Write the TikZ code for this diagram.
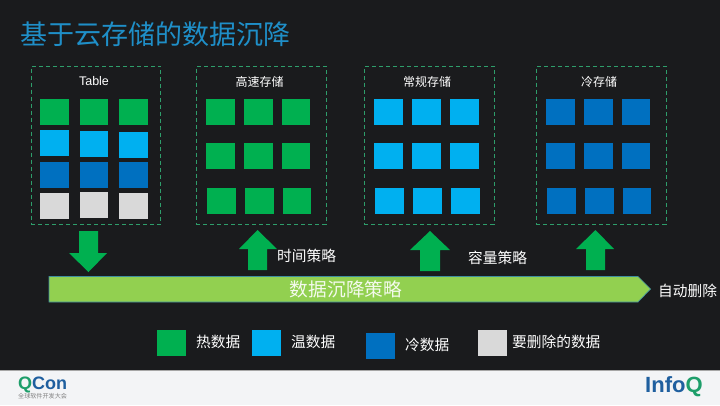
\documentclass[tikz,border=0pt]{standalone}
\usepackage{fontspec}
\setmainfont{Liberation Sans}
\newfontfamily\cjk{Noto Sans CJK SC}
\definecolor{bgdark}{HTML}{1A1B1D}
\definecolor{foot}{HTML}{F3F4F6}
\definecolor{hot}{HTML}{00B050}
\definecolor{warm}{HTML}{00B0F0}
\definecolor{cold}{HTML}{0070C0}
\definecolor{del}{HTML}{D9D9D9}
\definecolor{titleblue}{HTML}{1F8FC8}
\definecolor{framegreen}{HTML}{2E9E6B}
\definecolor{barlime}{HTML}{92D050}
\definecolor{barline}{HTML}{3E8E9E}
\definecolor{qgreen}{HTML}{1E9E6A}
\definecolor{qblue}{HTML}{1F5F9F}
\tikzset{
  x=1pt,y=-1pt,
  cell/.style={minimum width=29pt,minimum height=26pt,inner sep=0pt,outer sep=0pt,anchor=north west},
  narrowcell/.style={cell,minimum width=28pt},
  zone/.style={draw=framegreen,dash pattern=on 4pt off 3pt,line width=0.6pt,minimum width=129.5pt,minimum height=158.5pt,inner sep=0pt,outer sep=0pt,anchor=north west},
  fatarrow/.style={fill=hot,draw=none},
  lab/.style={text=white,inner sep=0pt,font=\cjk\fontsize{14.7pt}{16pt}\selectfont},
  head/.style={text=white,inner sep=0pt,font=\cjk\fontsize{12pt}{14pt}\selectfont},
}
\begin{document}
\begin{tikzpicture}
\useasboundingbox (0,0) rectangle (720,405);
\fill[bgdark] (0,0) rectangle (720,370);
\fill[foot] (0,370) rectangle (720,405);
\draw[gray!70,line width=0.8pt] (0,370) -- (720,370);
\node[anchor=west,inner sep=0pt,text=titleblue,font=\cjk\fontsize{27pt}{30pt}\selectfont] (title) at (20,34) {基于云存储的数据沉降};
% frames
\node[zone] (f1) at (31,66) {};
\node[zone] (f2) at (196.3,66) {};
\node[zone] (f3) at (364.3,66) {};
\node[zone] (f4) at (536.3,66) {};
\node[text=white,inner sep=0pt,font=\fontsize{12.5pt}{14pt}\selectfont] (h1) at (94,81.5) {Table};
\node[head] (h2) at (259.5,81.5) {高速存储};
\node[head] (h3) at (427,81.5) {常规存储};
\node[head] (h4) at (599,81.5) {冷存储};
% table cells
\node[cell,fill=hot] (a1) at (40,99) {};
\node[narrowcell,fill=hot] (a2) at (80,99) {};
\node[cell,fill=hot] (a3) at (119,99) {};
\node[cell,fill=warm] (b1) at (40,130) {};
\node[narrowcell,fill=warm] (b2) at (80,131) {};
\node[cell,fill=warm] (b3) at (119,132) {};
\node[cell,fill=cold] (c1) at (40,162) {};
\node[narrowcell,fill=cold] (c2) at (80,162) {};
\node[cell,fill=cold] (c3) at (119,162) {};
\node[cell,fill=del] (d1) at (40,193) {};
\node[narrowcell,fill=del] (d2) at (80,192) {};
\node[cell,fill=del] (d3) at (119,193) {};
% fast
\foreach \n/\x/\s in {1/206/cell,2/244/cell,3/282/narrowcell}{
  \node[\s,fill=hot] (p1\n) at (\x,99) {};
  \node[\s,fill=hot] (p2\n) at (\x,143) {};
  \node[\s,fill=hot] (p3\n) at (\x+1,188) {};
}
% normal
\foreach \n/\x in {1/374,2/412,3/450}{
  \node[cell,fill=warm] (q1\n) at (\x,99) {};
  \node[cell,fill=warm] (q2\n) at (\x,143) {};
  \node[cell,fill=warm] (q3\n) at (\x+1,188) {};
}
% cold
\foreach \n/\x/\s in {1/546/cell,2/584/cell,3/622/narrowcell}{
  \node[\s,fill=cold] (r1\n) at (\x,99) {};
  \node[\s,fill=cold] (r2\n) at (\x,143) {};
  \node[\s,fill=cold] (r3\n) at (\x+1,188) {};
}
% block arrows
\fill[fatarrow] (79,231) -- (98,231) -- (98,253) -- (107,253) -- (88.5,272) -- (69,253) -- (79,253) -- cycle;
\fill[fatarrow] (248,270) -- (267,270) -- (267,249) -- (277,249) -- (257.5,230) -- (239,249) -- (248,249) -- cycle;
\fill[fatarrow] (420,271) -- (440,271) -- (440,250) -- (450,250) -- (430,231) -- (410,250) -- (420,250) -- cycle;
\fill[fatarrow] (586,270) -- (605,270) -- (605,249) -- (614,249) -- (595.5,230) -- (576,249) -- (586,249) -- cycle;
% bar
\draw[barline,fill=barlime,line width=0.7pt] (49,276.5) -- (638,276.5) -- (650.5,289) -- (638,302) -- (49,302) -- cycle;
\node[inner sep=0pt,text=white!90!barlime,font=\cjk\fontsize{18.7pt}{20pt}\selectfont] (barlab) at (346,289) {数据沉降策略};
\node[lab,anchor=west] (t1) at (277,255.5) {时间策略};
\node[lab,anchor=west] (t2) at (468,257.5) {容量策略};
\node[lab,anchor=west] (t3) at (658,290.5) {自动删除};
% legend
\node[cell,fill=hot] (l1) at (157,330) {};
\node[lab,anchor=west] (lt1) at (196,342) {热数据};
\node[cell,fill=warm] (l2) at (252,330) {};
\node[lab,anchor=west] (lt2) at (291,342) {温数据};
\node[cell,fill=cold] (l3) at (366,333) {};
\node[lab,anchor=west] (lt3) at (405,345) {冷数据};
\node[cell,fill=del] (l4) at (478,330) {};
\node[lab,anchor=west] (lt4) at (512,342) {要删除的数据};
% logos
\node[anchor=west,inner sep=0pt,font=\bfseries\fontsize{18pt}{20pt}\selectfont] (qcon) at (18,385) {\textcolor{qgreen}{Q}\textcolor{qblue}{Con}};
\node[anchor=west,inner sep=0pt,text=gray,font=\cjk\fontsize{6.1pt}{7pt}\selectfont] (qsub) at (18,396) {全球软件开发大会};
\node[anchor=west,inner sep=0pt,font=\bfseries\fontsize{22pt}{24pt}\selectfont] (infoq) at (645,387) {\textcolor{qblue}{Info}\textcolor{qgreen}{Q}};
\end{tikzpicture}
\end{document}
